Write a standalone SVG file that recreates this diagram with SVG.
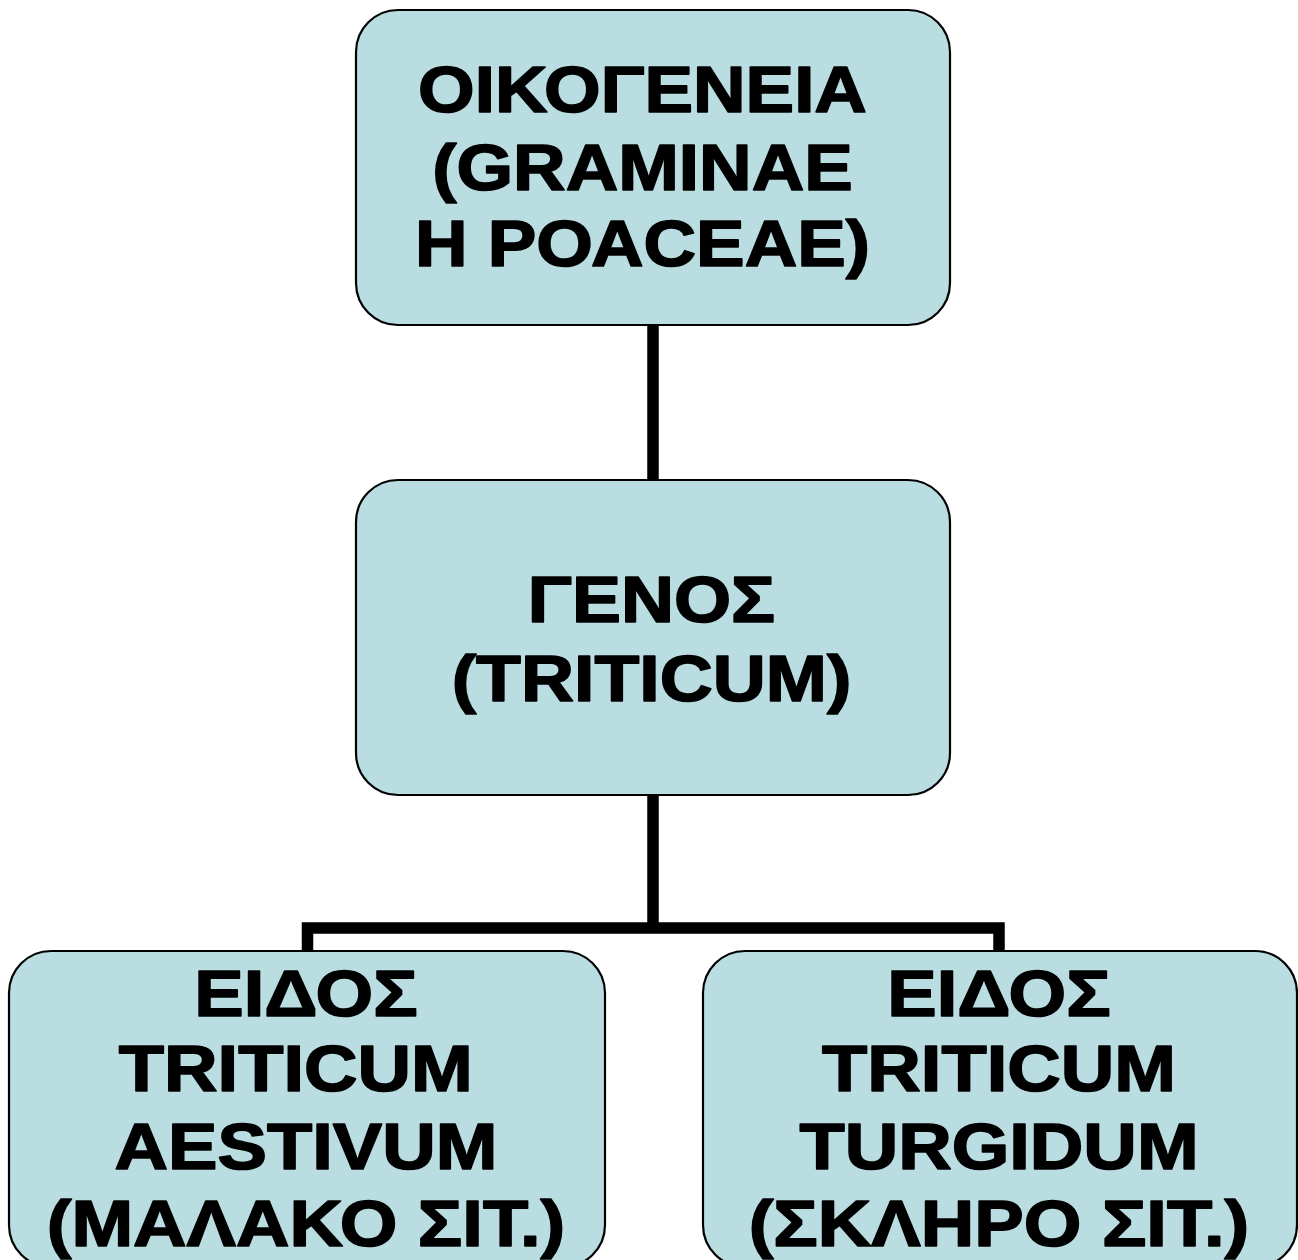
<svg xmlns="http://www.w3.org/2000/svg" width="1298" height="1260" viewBox="0 0 1298 1260">
<style>
.box{fill:#B9DDE0;stroke:#000;stroke-width:2.2}
.conn{fill:none;stroke:#000;stroke-width:11.5;stroke-linejoin:miter;stroke-linecap:butt}
.t{font-family:"Liberation Sans",Arial,sans-serif;font-weight:bold;font-size:65px;fill:#000;stroke:#000;stroke-width:1.6;stroke-linejoin:round;text-anchor:middle}
</style>
<rect width="1298" height="1260" fill="#fff"/>
<g id="connectors">
<path class="conn" d="M653,322 V483"/>
<path class="conn" d="M653,792 V928"/>
<path class="conn" d="M307.5,953 V928 H999 V953"/>
</g>
<g id="node-family">
<rect class="box" x="356" y="10" width="594" height="315" rx="42" ry="42"/>
<g transform="translate(642.5,0) scale(1.12,1)">
<text class="t" x="0" y="112.5">ΟΙΚΟΓΕΝΕΙΑ</text>
<text class="t" x="0" y="190">(GRAMINAE</text>
<text class="t" x="0" y="266">Η ΡΟΑCEAE)</text>
</g>
</g>
<g id="node-genus">
<rect class="box" x="356" y="480" width="594" height="315" rx="42" ry="42"/>
<g transform="translate(651.5,0) scale(1.13,1)">
<text class="t" x="0" y="622.5">ΓΕΝΟΣ</text>
<text class="t" x="0" y="701">(TRITICUM)</text>
</g>
</g>
<g id="node-aestivum">
<rect class="box" x="9" y="951" width="596" height="316" rx="42" ry="42"/>
<g transform="translate(306,0) scale(1.14,1)">
<text class="t" x="0" y="1016.5">ΕΙΔΟΣ</text>
<text class="t" x="-9" y="1091.5">TRITICUM</text>
<text class="t" x="0" y="1169.5">AESTIVUM</text>
<text class="t" x="0" y="1246.5">(ΜΑΛΑΚΟ ΣΙΤ.)</text>
</g>
</g>
<g id="node-turgidum">
<rect class="box" x="703" y="951" width="594" height="316" rx="42" ry="42"/>
<g transform="translate(999,0) scale(1.14,1)">
<text class="t" x="0" y="1016.5">ΕΙΔΟΣ</text>
<text class="t" x="0" y="1091.5">TRITICUM</text>
<text class="t" x="0" y="1169.5">TURGIDUM</text>
<text class="t" x="0" y="1246.5">(ΣΚΛΗΡΟ ΣΙΤ.)</text>
</g>
</g>
</svg>
